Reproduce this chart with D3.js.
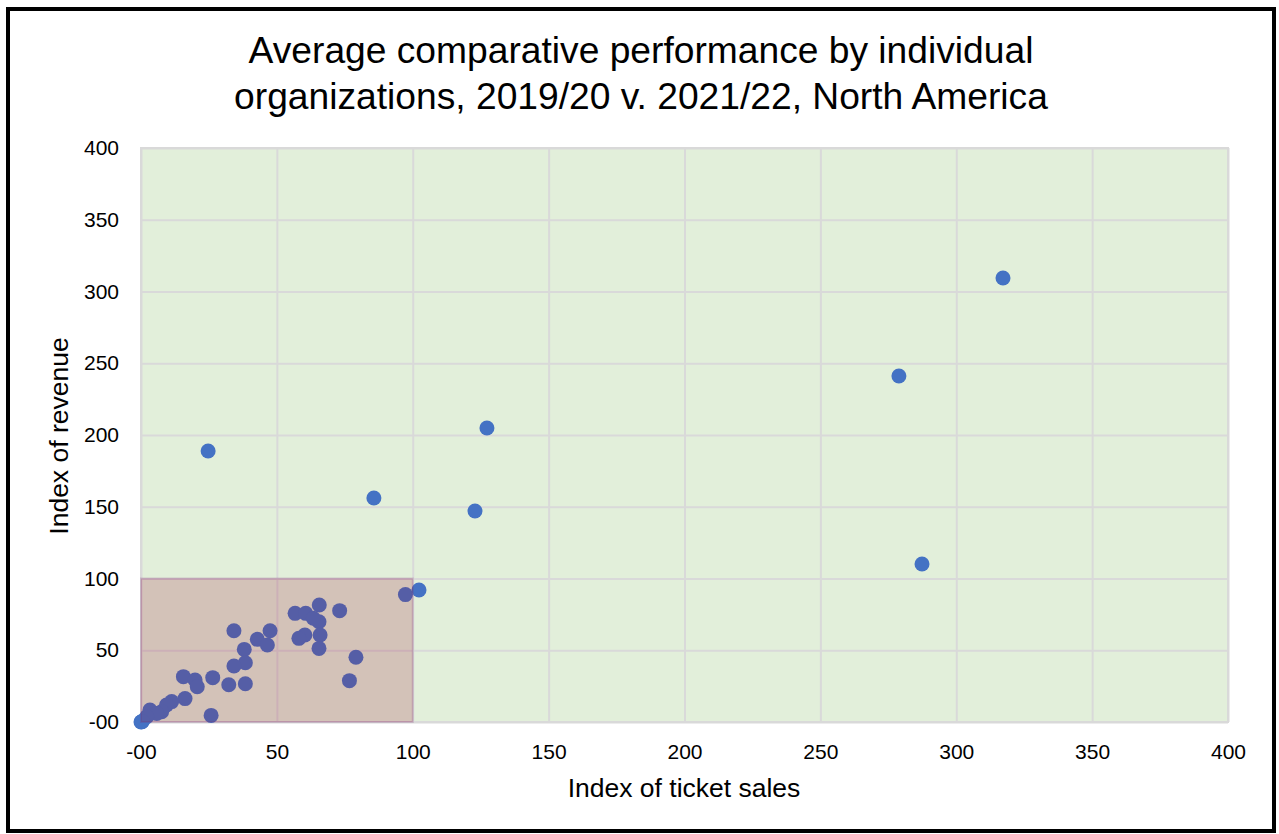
<!DOCTYPE html>
<html><head><meta charset="utf-8">
<script src="https://cdn.jsdelivr.net/npm/d3@7"></script>
<style>
body{margin:0;background:#fff;}
svg{display:block;}
text{font-family:"Liberation Sans",Arial,sans-serif;fill:#000;}
</style></head><body>
<svg id="c" width="1279" height="834"></svg>
<script>
const titleLines = ["Average comparative performance by individual", "organizations, 2019/20 v. 2021/22, North America"];
const xTitle = "Index of ticket sales";
const yTitle = "Index of revenue";
const xTicks = [0, 50, 100, 150, 200, 250, 300, 350, 400];
const xTickLabels = ["-00", "50", "100", "150", "200", "250", "300", "350", "400"];
const yTicks = [0, 50, 100, 150, 200, 250, 300, 350, 400];
const yTickLabels = ["-00", "50", "100", "150", "200", "250", "300", "350", "400"];
const ticketSales = [317.2, 278.9, 287.4, 127.3, 122.9, 85.7, 24.7, 102.3, 97.3,
  65.6, 73.1, 56.7, 60.6, 65.5, 63.4, 65.9, 60.3, 58.1, 65.5, 79.1, 76.7,
  34.2, 47.5, 42.8, 46.5, 38.0, 38.4, 34.2, 26.4, 32.3, 38.4, 15.6, 19.9, 20.7,
  16.2, 25.8, 11.3, 9.4, 7.6, 3.3, 5.8, 2.1, 0.2, 0.0, 0.5];
const revenue = [309.4, 241.1, 110.1, 204.9, 147.0, 156.1, 188.9, 92.0, 88.8,
  81.5, 77.6, 75.7, 75.7, 69.9, 72.3, 60.6, 60.6, 58.3, 51.3, 45.1, 28.8,
  63.6, 63.6, 57.6, 53.7, 50.6, 41.3, 39.0, 30.9, 26.0, 26.7, 31.6, 29.3, 24.6,
  16.3, 4.6, 14.2, 11.8, 7.2, 8.4, 6.0, 3.7, 0.2, 0.0, 0.4];
const boxExtent = [100, 100];

const svg = d3.select("#c");
const m = {l:141, t:148, r:1228, b:722};

// frame
svg.append("rect").attr("x",8).attr("y",9).attr("width",1266).attr("height",822)
  .attr("fill","#fff").attr("stroke","#000").attr("stroke-width",4);

const x = d3.scaleLinear().domain([0,400]).range([m.l, m.r]);
const y = d3.scaleLinear().domain([0,400]).range([m.b, m.t]);

// plot background
svg.append("rect").attr("x",m.l).attr("y",m.t).attr("width",m.r-m.l).attr("height",m.b-m.t)
  .attr("fill","#E2EFDA");

// grid
const gx = svg.append("g").attr("transform",`translate(0,${m.b})`)
  .call(d3.axisBottom(x).tickValues(xTicks).tickSize(-(m.b-m.t)).tickFormat(""));
const gy = svg.append("g").attr("transform",`translate(${m.l},0)`)
  .call(d3.axisLeft(y).tickValues(yTicks).tickSize(-(m.r-m.l)).tickFormat(""));
[gx,gy].forEach(g=>{
  g.select(".domain").remove();
  g.selectAll(".tick line").attr("stroke","#D9D9D9").attr("stroke-width",2);
});
svg.append("rect").attr("x",m.l).attr("y",m.t).attr("width",m.r-m.l).attr("height",m.b-m.t)
  .attr("fill","none").attr("stroke","#D9D9D9").attr("stroke-width",2);

// points
const pts = ticketSales.map((v,i)=>({x:v,y:revenue[i]}));
svg.append("g").selectAll("circle").data(pts).join("circle")
  .attr("cx",d=>x(d.x)).attr("cy",d=>y(d.y)).attr("r",7.5).attr("fill","#4472C4");

// overlay box
svg.append("rect").attr("x",x(0)).attr("y",y(boxExtent[1]))
  .attr("width",x(boxExtent[0])-x(0)).attr("height",y(0)-y(boxExtent[1]))
  .attr("fill","rgb(156,14,48)").attr("fill-opacity",0.2)
  .attr("stroke","rgb(120,40,110)").attr("stroke-opacity",0.2).attr("stroke-width",2);

// tick labels
const lx = svg.append("g").attr("transform",`translate(0,${m.b})`)
  .call(d3.axisBottom(x).tickValues(xTicks).tickSize(0).tickPadding(22).tickFormat((d,i)=>xTickLabels[i]));
const ly = svg.append("g").attr("transform",`translate(${m.l},0)`)
  .call(d3.axisLeft(y).tickValues(yTicks).tickSize(0).tickPadding(22).tickFormat((d,i)=>yTickLabels[i]));
[lx,ly].forEach(g=>{
  g.select(".domain").remove();
  g.selectAll("text").attr("font-family","Liberation Sans, Arial, sans-serif").attr("font-size",21).attr("fill","#000");
});

// titles
svg.append("text").attr("x",641).attr("y",63).attr("text-anchor","middle").attr("font-size",37.2).text(titleLines[0]);
svg.append("text").attr("x",641).attr("y",109).attr("text-anchor","middle").attr("font-size",37.2).text(titleLines[1]);
svg.append("text").attr("x",684).attr("y",797).attr("text-anchor","middle").attr("font-size",26.5).text(xTitle);
svg.append("text").attr("transform",`translate(68,436) rotate(-90)`).attr("text-anchor","middle").attr("font-size",26.5).text(yTitle);
</script></body></html>
